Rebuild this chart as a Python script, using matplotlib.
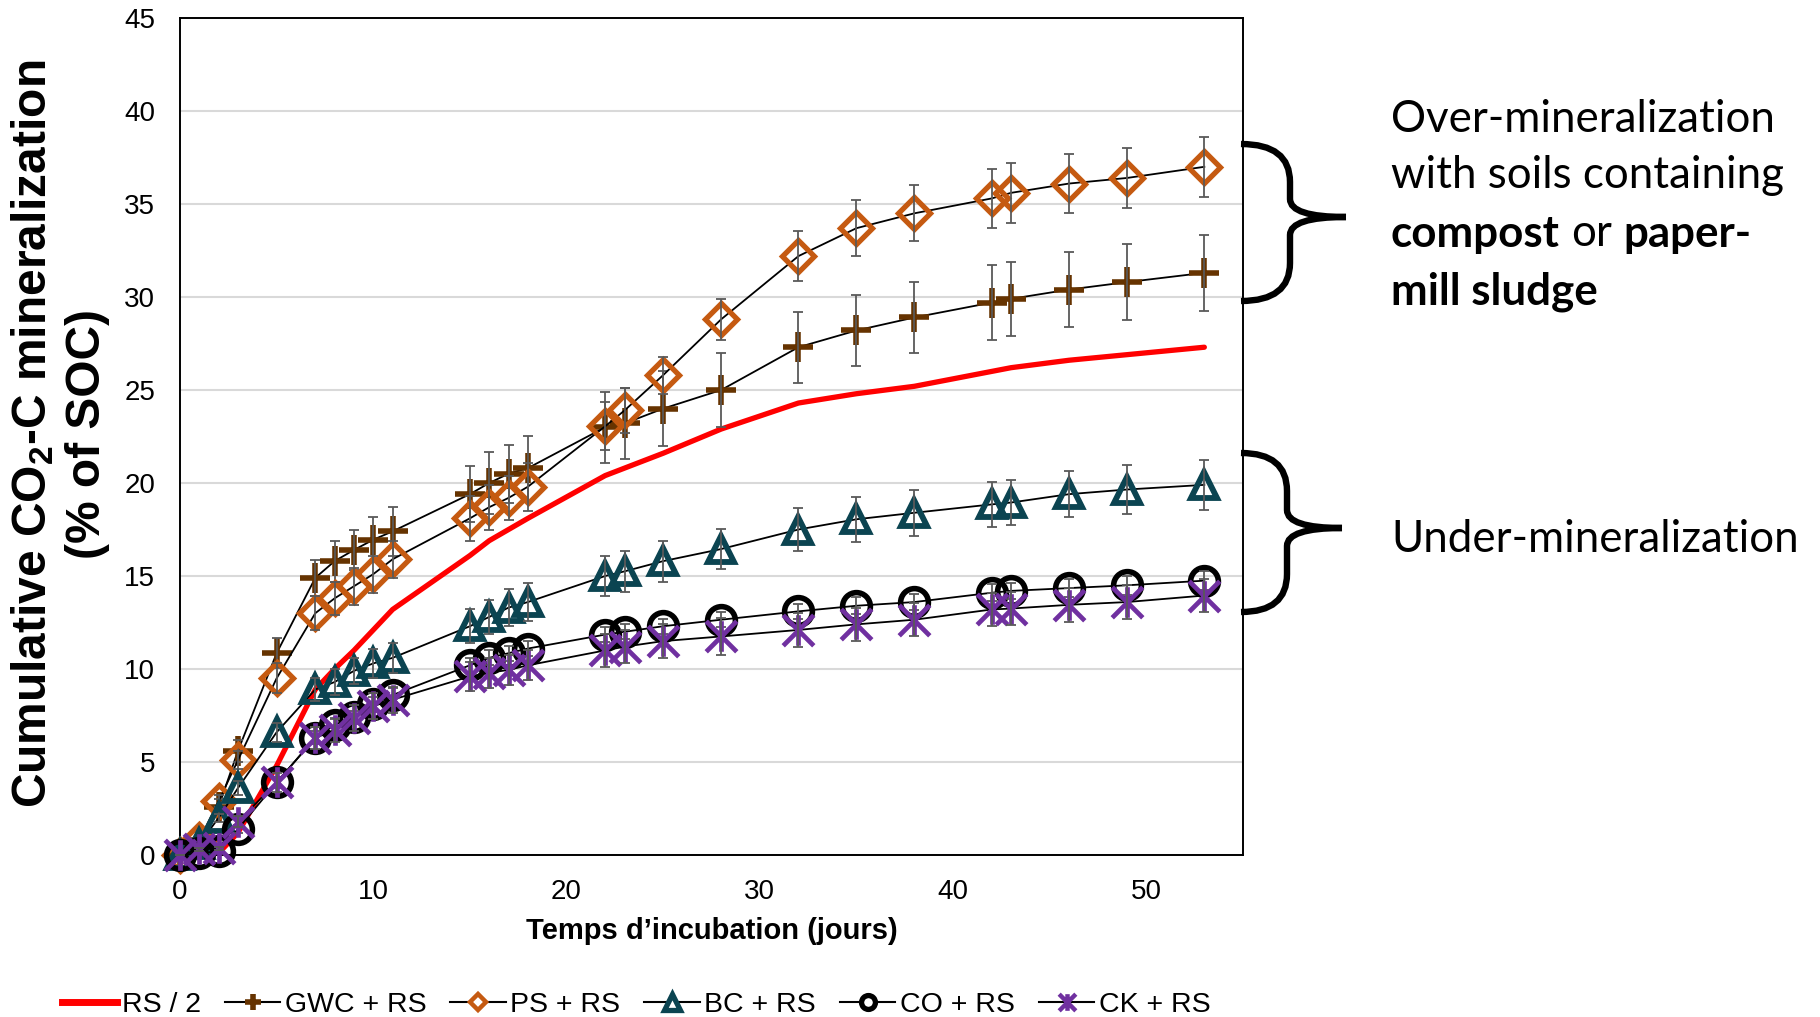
import numpy as np
import matplotlib
matplotlib.use("Agg")
import matplotlib.pyplot as plt
from matplotlib.path import Path
from matplotlib.patches import PathPatch
from matplotlib.lines import Line2D

# ===================== DATA =====================
days = [0, 1, 2, 3, 5, 7, 8, 9, 10, 11, 15, 16, 17, 18, 22, 23, 25, 28, 32, 35, 38, 42, 43, 46, 49, 53]

rs_half = [0, 0, 0.1, 1.2, 4.8, 8.9, 10.0, 11.0, 12.1, 13.2, 16.1, 16.9, 17.5, 18.1, 20.4, 20.8,
           21.6, 22.9, 24.3, 24.8, 25.2, 26.0, 26.2, 26.6, 26.9, 27.3]

gwc = [0, 0.8, 2.6, 5.6, 10.85, 14.9, 15.8, 16.4, 16.95, 17.4, 19.4, 20.0, 20.5, 20.8, 23.0, 23.2,
       24.0, 25.0, 27.3, 28.2, 28.9, 29.7, 29.9, 30.4, 30.8, 31.3]
gwc_err = [0, 0.2, 0.4, 0.6, 0.8, 0.95, 1.1, 1.1, 1.2, 1.3, 1.5, 1.65, 1.55, 1.75, 1.9, 1.9,
           2.0, 2.0, 1.9, 1.9, 1.9, 2.0, 2.0, 2.0, 2.05, 2.05]

ps = [0, 0.8, 2.9, 5.1, 9.5, 13.0, 13.8, 14.45, 15.1, 15.9, 18.1, 18.7, 19.2, 19.8, 23.05, 23.9,
      25.8, 28.8, 32.2, 33.7, 34.5, 35.3, 35.6, 36.1, 36.4, 37.0]
ps_err = [0, 0.2, 0.3, 0.5, 0.8, 0.9, 0.9, 1.0, 1.0, 1.0, 1.2, 1.2, 1.2, 1.3, 1.3, 1.2,
          1.0, 1.1, 1.35, 1.5, 1.5, 1.6, 1.6, 1.6, 1.6, 1.6]

bc = [0, 0.6, 2.0, 3.6, 6.6, 8.9, 9.3, 9.9, 10.3, 10.6, 12.3, 12.8, 13.3, 13.6, 15.0, 15.25,
      15.8, 16.45, 17.5, 18.05, 18.4, 18.85, 18.95, 19.4, 19.65, 19.9]
bc_err = [0, 0.1, 0.2, 0.4, 0.5, 0.6, 0.7, 0.7, 0.8, 0.8, 0.9, 0.9, 1.0, 1.0, 1.1, 1.1,
          1.1, 1.1, 1.15, 1.2, 1.25, 1.2, 1.2, 1.25, 1.3, 1.35]

co = [0, 0.1, 0.2, 1.4, 3.9, 6.3, 7.0, 7.4, 8.1, 8.6, 10.2, 10.6, 10.85, 11.1, 11.85, 12.0,
      12.3, 12.65, 13.1, 13.4, 13.6, 14.1, 14.2, 14.35, 14.5, 14.75]
co_err = [0, 0.05, 0.1, 0.2, 0.3, 0.35, 0.35, 0.35, 0.4, 0.4, 0.4, 0.4, 0.4, 0.4, 0.4, 0.4,
          0.4, 0.4, 0.4, 0.45, 0.45, 0.45, 0.45, 0.5, 0.5, 0.5]

ck = [0, 0.3, 0.35, 1.8, 3.9, 6.3, 6.7, 7.35, 8.0, 8.35, 9.6, 9.8, 9.95, 10.2, 11.0, 11.2,
      11.5, 11.75, 12.1, 12.4, 12.65, 13.2, 13.25, 13.45, 13.6, 13.95]
ck_err = [0, 0.1, 0.1, 0.3, 0.5, 0.6, 0.6, 0.7, 0.7, 0.7, 0.8, 0.8, 0.8, 0.8, 0.9, 0.9,
          0.9, 1.0, 0.9, 0.9, 0.9, 0.9, 0.9, 0.9, 0.9, 0.9]

labels = ["RS / 2", "GWC + RS", "PS + RS", "BC + RS", "CO + RS", "CK + RS"]
x_ticks = [0, 10, 20, 30, 40, 50]
y_ticks = [0, 5, 10, 15, 20, 25, 30, 35, 40, 45]
# ================================================

W, H = 1820, 1017
FONT = "Liberation Sans"
ANN_FONT = ["Lato", "DejaVu Sans"]

plt.rcParams["font.family"] = FONT
plt.rcParams["mathtext.fontset"] = "custom"
plt.rcParams["mathtext.rm"] = "Liberation Sans"
plt.rcParams["mathtext.bf"] = "Liberation Sans:bold"

C_ORANGE = "#C55A11"
C_BROWN = "#663300"
C_TEAL = "#0B4451"
C_PURPLE = "#7030A0"
C_ERR = "#595959"

# Excel-Stern: X + senkrechter Strich
star = Path([(-1, -1), (1, 1), (-1, 1), (1, -1), (0, -1), (0, 1)],
            [Path.MOVETO, Path.LINETO, Path.MOVETO, Path.LINETO, Path.MOVETO, Path.LINETO])

fig = plt.figure(figsize=(W / 100, H / 100), dpi=100)
ax = fig.add_axes([180 / W, 1 - 855 / H, (1243 - 180) / W, (855 - 18) / H])

ax.plot(days, rs_half, color="red", lw=3.8, solid_capstyle="round", zorder=2)

series = [
    (gwc, gwc_err, dict(marker="+", ms=22, mew=4.0, mec=C_BROWN, mfc="none")),
    (ps, ps_err, dict(marker="D", ms=16, mew=3.8, mec=C_ORANGE, mfc="none")),
    (bc, bc_err, dict(marker="^", ms=19, mew=4.2, mec=C_TEAL, mfc="none")),
    (co, co_err, dict(marker="o", ms=20, mew=4.0, mec="black", mfc="none")),
    (ck, ck_err, dict(marker=star, ms=22, mew=3.4, mec=C_PURPLE, mfc="none")),
]
z = 3
for vals, err, mk in series:
    ax.plot(days, vals, color="black", lw=1.3, zorder=z, **mk)
    ax.errorbar(days, vals, yerr=err, fmt="none", ecolor=C_ERR, elinewidth=1.3,
                capsize=3.8, capthick=1.3, zorder=z + 0.5)
    z += 1

ax.set_xlim(0, 55)
ax.set_ylim(0, 45)
ax.set_xticks(x_ticks)
ax.set_yticks(y_ticks)
ax.tick_params(axis="both", length=0, labelsize=20)
ax.tick_params(axis="x", pad=17)
ax.tick_params(axis="y", pad=18)
ax.yaxis.grid(True, color="#D9D9D9", lw=1.5)
ax.set_axisbelow(True)
for sp in ax.spines.values():
    sp.set_color("black")
    sp.set_linewidth(1.4)
for line in ax.lines:
    line.set_clip_on(False)

# Achsentitel
fig.text(33 / W, 1 - 434 / H, r"Cumulative CO$_{\mathbf{2}}$-C mineralization", rotation=90,
         fontsize=34.5, fontweight="bold", ha="center", va="center")
fig.text(88 / W, 1 - 434 / H, "(% of SOC)", rotation=90,
         fontsize=34.5, fontweight="bold", ha="center", va="center")
fig.text(712 / W, 1 - 931 / H, "Temps d\u2019incubation (jours)", fontsize=21,
         fontweight="bold", ha="center", va="center")

# Legende
handles = [
    Line2D([], [], color="red", lw=5),
    Line2D([], [], color="black", lw=1.5, marker="+", ms=12, mew=4, mec=C_BROWN),
    Line2D([], [], color="black", lw=1.5, marker="D", ms=8.5, mew=3.2, mec=C_ORANGE, mfc="white"),
    Line2D([], [], color="black", lw=1.5, marker="^", ms=11, mew=3.8, mec=C_TEAL, mfc="white"),
    Line2D([], [], color="black", lw=1.5, marker="o", ms=10, mew=3.8, mec="black", mfc="white"),
    Line2D([], [], color="black", lw=1.5, marker=star, ms=12, mew=3.2, mec=C_PURPLE, mfc="none"),
]
fig.legend(handles, labels, loc="center", bbox_to_anchor=(636 / W, 1 - 1005 / H), ncol=6,
           frameon=False, fontsize=20.5, handlelength=1.95, handletextpad=0.15,
           columnspacing=0.85, borderpad=0, borderaxespad=0)


# geschweifte Klammern (Pixelkoordinaten)
def brace(x0, xm, xt, yt, ym, yb, r1=38, r2=18):
    pts = [(x0, yt), (xm, yt), (xm, yt + r1), (xm, ym - r2), (xm, ym), (xt, ym),
           (xt, ym), (xm, ym), (xm, ym + r2), (xm, yb - r1), (xm, yb), (x0, yb)]
    codes = [Path.MOVETO, Path.CURVE3, Path.CURVE3, Path.LINETO, Path.CURVE3, Path.CURVE3,
             Path.MOVETO, Path.CURVE3, Path.CURVE3, Path.LINETO, Path.CURVE3, Path.CURVE3]
    pts = [(x / W, 1 - y / H) for x, y in pts]
    fig.add_artist(PathPatch(Path(pts, codes), fc="none", ec="black", lw=4.6,
                             transform=fig.transFigure, capstyle="butt"))


brace(1241, 1290, 1346, 144, 217, 301)
brace(1241, 1287, 1342, 453, 528, 612)

# Annotationen (mit fett gesetzten Wörtern)
renderer = fig.canvas.get_renderer()
ANN_SIZE = 31.6


def text_width(s, weight):
    t = fig.text(0, 0, s, fontsize=ANN_SIZE, fontweight=weight, family=ANN_FONT)
    w = t.get_window_extent(renderer).width
    t.remove()
    return w


space_w = text_width("a a", "normal") - text_width("aa", "normal")


def rich_line(x_px, y_px, parts):
    x = x_px
    for i, (s, weight) in enumerate(parts):
        if i > 0:
            x += space_w
        fig.text(x / W, 1 - y_px / H, s, fontsize=ANN_SIZE, fontweight=weight,
                 family=ANN_FONT, ha="left", va="center")
        x += text_width(s, weight)


rich_line(1391, 120, [("Over-mineralization", "normal")])
rich_line(1391, 176, [("with soils containing", "normal")])
rich_line(1391, 234, [("compost", "bold"), ("or", "normal"), ("paper-", "bold")])
rich_line(1391, 292, [("mill sludge", "bold")])
rich_line(1391, 539, [("Under-mineralization", "normal")])

fig.savefig("out.png", dpi=100)
